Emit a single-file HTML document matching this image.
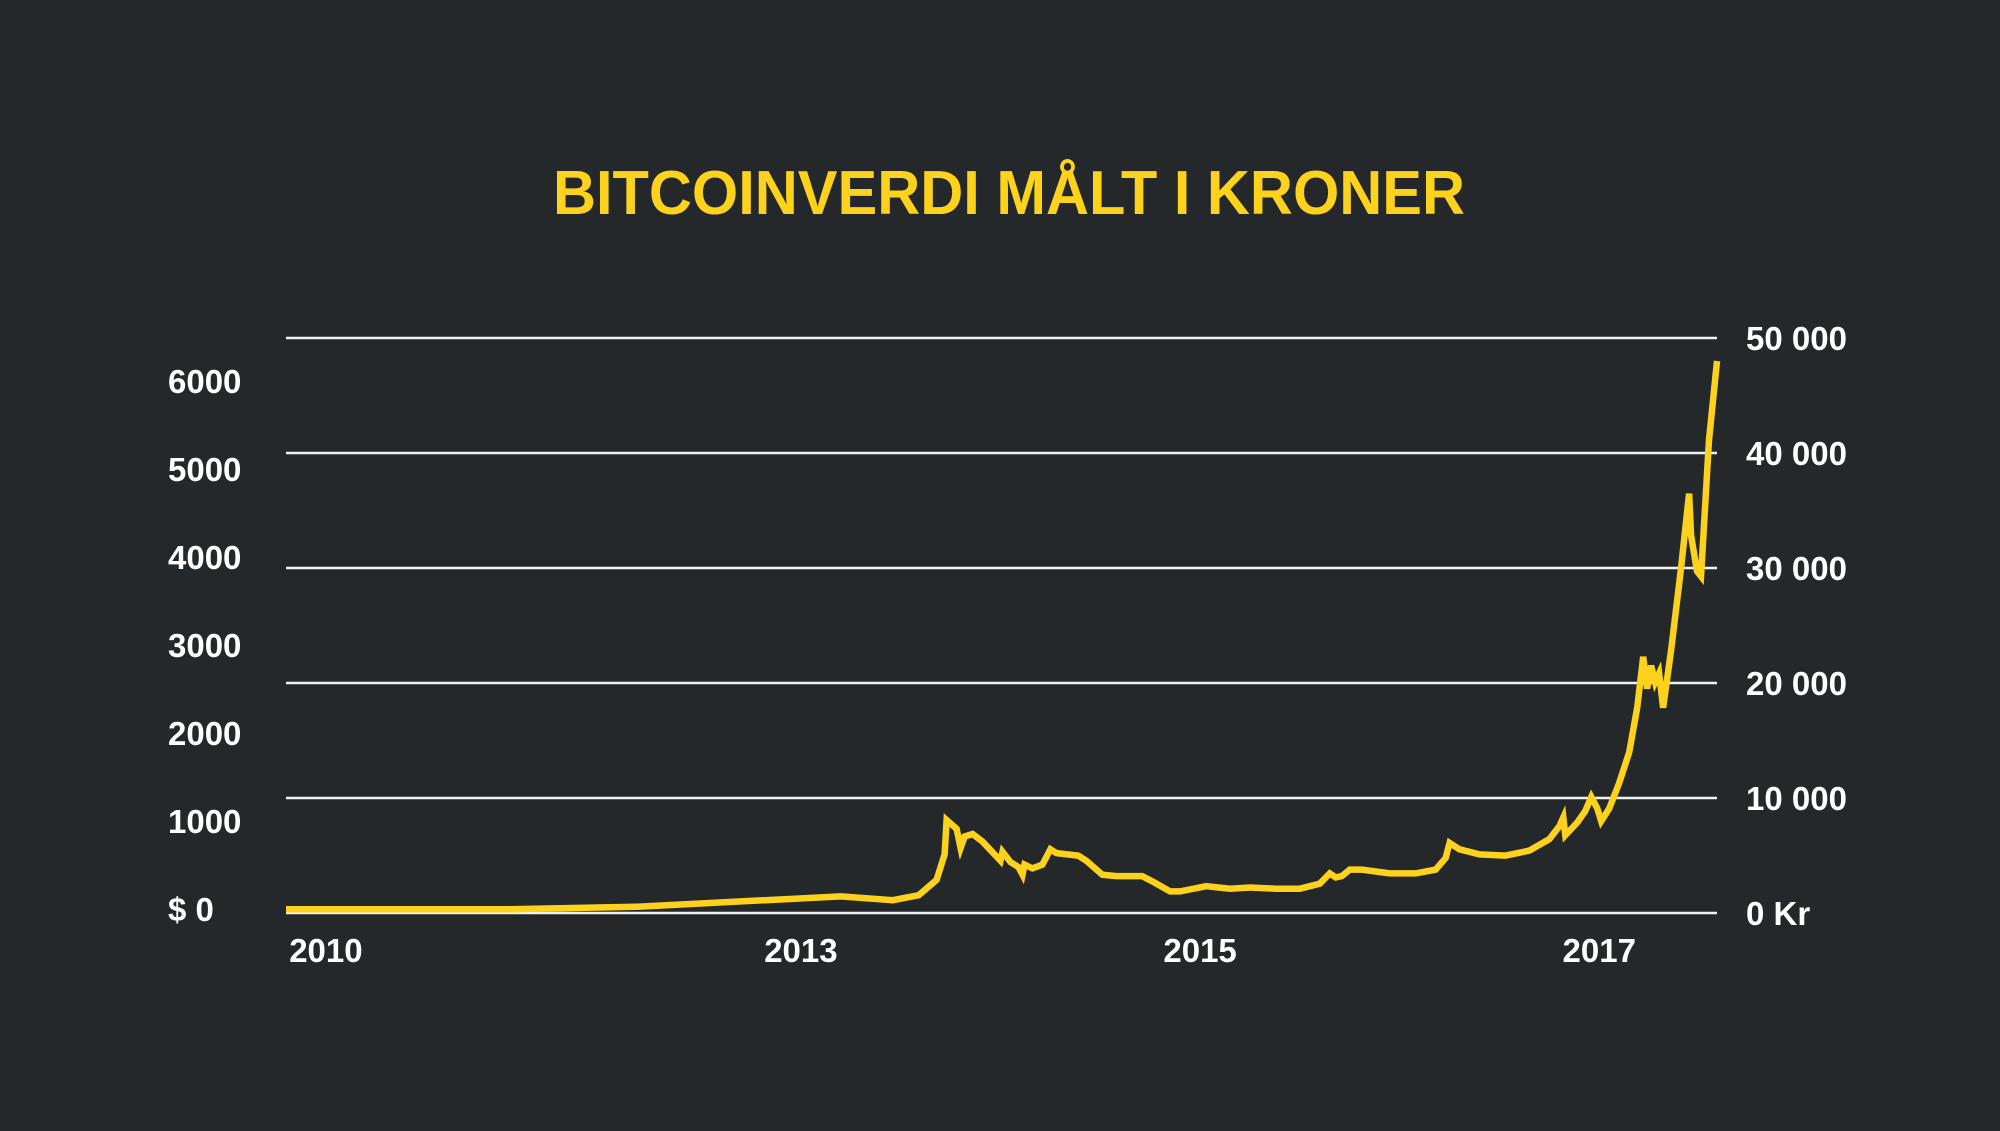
<!DOCTYPE html>
<html><head><meta charset="utf-8"><style>
html,body{margin:0;padding:0;background:#25282a;}
svg{display:block;}
text{font-family:"Liberation Sans",sans-serif;}
</style></head><body>
<svg id="chart" width="2000" height="1131" viewBox="0 0 2000 1131" xmlns="http://www.w3.org/2000/svg">
<rect x="0" y="0" width="2000" height="1131" fill="#25282a"/>
<text x="1009" y="214" text-anchor="middle" font-size="62" font-weight="bold" fill="#fcd21c" textLength="912" lengthAdjust="spacingAndGlyphs">BITCOINVERDI MÅLT I KRONER</text>
<g id="grid"></g><g id="labels"></g><g id="series"></g>
</svg>
<script>
const years=[2010.42,2011.54,2012.18,2012.82,2013.20,2013.46,2013.59,2013.68,2013.72,2013.73,2013.78,2013.80,2013.82,2013.86,2013.91,2014.00,2014.01,2014.05,2014.09,2014.11,2014.12,2014.16,2014.21,2014.25,2014.28,2014.39,2014.43,2014.51,2014.58,2014.71,2014.77,2014.85,2014.90,2015.03,2015.15,2015.25,2015.38,2015.50,2015.60,2015.65,2015.68,2015.71,2015.75,2015.81,2015.95,2016.08,2016.18,2016.23,2016.25,2016.30,2016.40,2016.53,2016.65,2016.75,2016.80,2016.82,2016.83,2016.89,2016.93,2016.96,2016.99,2017.01,2017.05,2017.10,2017.15,2017.19,2017.22,2017.24,2017.26,2017.28,2017.30,2017.32,2017.36,2017.41,2017.45,2017.46,2017.49,2017.51,2017.55,2017.59];
const kroner=[330,330,550,1110,1440,1110,1550,2880,5100,8090,7320,5650,6650,6870,6210,4550,5320,4430,3990,3330,4210,3880,4210,5540,5210,4990,4550,3330,3210,3210,2660,1880,1880,2330,2110,2220,2110,2110,2550,3440,3100,3210,3770,3770,3440,3440,3770,4770,6100,5540,5100,4990,5430,6430,7540,8310,6760,7870,8870,10090,9090,7980,9090,11310,13970,17850,22280,19510,21510,20070,20840,17850,22840,30040,36470,32810,29710,29270,41130,48000];
const krTicks=[0,10000,20000,30000,40000,50000];
const krLabels=["0 Kr","10 000","20 000","30 000","40 000","50 000"];
const usdTicks=[0,1000,2000,3000,4000,5000,6000];
const usdLabels=["$ 0","1000","2000","3000","4000","5000","6000"];
const yearTicks=[2010.62,2013,2015,2017];
const yearLabels=["2010","2013","2015","2017"];

const X0=286,X1=1717,T0=2010.42,T1=2017.59;
const xs=t=>X0+(t-T0)/(T1-T0)*(X1-X0);
const ys=v=>913-v/50000*(913-338);
const yUsd=v=>909-v/1000*88;
const NS="http://www.w3.org/2000/svg";
function mk(tag,attrs,parent){const e=document.createElementNS(NS,tag);for(const k in attrs)e.setAttribute(k,attrs[k]);parent.appendChild(e);return e;}
const grid=document.getElementById('grid'),labels=document.getElementById('labels'),series=document.getElementById('series');
krTicks.forEach((v,i)=>{
  const l=mk('line',{x1:X0,x2:X1,y1:ys(v),y2:ys(v),stroke:'#f2f2f2','stroke-width':2.6},grid);
  
  
  const t=mk('text',{x:1746,y:ys(v)+12,'font-size':33,'font-weight':'bold',fill:'#fff'},labels);
  t.textContent=krLabels[i];
  
  
});
usdTicks.forEach((v,i)=>{
  const t=mk('text',{x:168,y:yUsd(v)+12,'font-size':33,'font-weight':'bold',fill:'#fff'},labels);
  t.textContent=usdLabels[i];
  
  
});
yearTicks.forEach((v,i)=>{
  const t=mk('text',{x:xs(v),y:962,'font-size':33,'font-weight':'bold',fill:'#fff','text-anchor':'middle'},labels);
  t.textContent=yearLabels[i];
  
  
});
const d=years.map((t,i)=>(i?'L':'M')+xs(t).toFixed(1)+','+ys(kroner[i]).toFixed(1)).join(' ');
const p=mk('path',{d:d,fill:'none',stroke:'#fcd21c','stroke-width':6.5,'stroke-linejoin':'miter','stroke-miterlimit':4},series);


</script>
</body></html>
